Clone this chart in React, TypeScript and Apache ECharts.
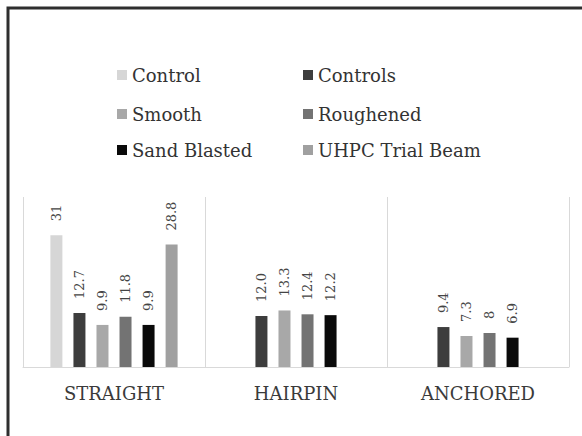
import React, { useEffect, useRef } from "react";
import * as echarts from "echarts";

const categories = ["STRAIGHT", "HAIRPIN", "ANCHORED"];
const seriesNames = ["Control", "Controls", "Smooth", "Roughened", "Sand Blasted", "UHPC Trial Beam"];
const control = [31, null, null];
const controls = [12.7, 12.0, 9.4];
const smooth = [9.9, 13.3, 7.3];
const roughened = [11.8, 12.4, 8];
const sandBlasted = [9.9, 12.2, 6.9];
const uhpcTrialBeam = [28.8, null, null];

const seriesValues = [control, controls, smooth, roughened, sandBlasted, uhpcTrialBeam];
const seriesColors = ["#d6d6d6", "#3d3d3d", "#a8a8a8", "#737373", "#0a0a0a", "#a0a0a0"];
const legendPos = [
  [117, 65], [303, 65],
  [117, 104], [303, 104],
  [117, 140], [303, 140],
];

const FONT = "DejaVu Serif";

export default function App() {
  const ref = useRef<HTMLDivElement>(null);
  useEffect(() => {
    if (!ref.current) return;
    const chart = echarts.init(ref.current, null, { renderer: "svg" });
    chart.setOption({
      animation: false,
      backgroundColor: "#ffffff",
      graphic: [
        {
          type: "rect",
          shape: { x: 8, y: 8, width: 700, height: 700 },
          style: { fill: "none", stroke: "#2e2e2e", lineWidth: 3 },
          silent: true,
          z: 100,
        },
      ],
      legend: seriesNames.map((n, i) => ({
        data: [n],
        left: legendPos[i][0],
        top: legendPos[i][1],
        padding: 0,
        icon: "rect",
        itemWidth: 10,
        itemHeight: 10,
        textStyle: { fontFamily: FONT, fontSize: 18, color: "#333333", lineHeight: 20 },
      })),
      grid: { left: 23, right: 13, top: 197, bottom: 69 },
      xAxis: {
        type: "category",
        data: categories,
        axisLine: { lineStyle: { color: "#d9d9d9", width: 1 } },
        axisTick: { show: false },
        splitLine: { show: true, lineStyle: { color: "#d9d9d9", width: 1 } },
        axisLabel: { fontFamily: FONT, fontSize: 18, color: "#3a3a3a", margin: 17 },
      },
      yAxis: { type: "value", min: 0, max: 40, show: false, splitLine: { show: false } },
      series: seriesNames.map((n, i) => ({
        name: n,
        type: "bar",
        data: seriesValues[i],
        barWidth: 12,
        barGap: "92%",
        itemStyle: { color: seriesColors[i] },
        label: {
          show: true,
          position: "top",
          rotate: 90,
          align: "left",
          verticalAlign: "middle",
          distance: 14,
          fontFamily: FONT,
          fontSize: 13,
          color: "#444444",
          formatter: (p: any) => (p.dataIndex === 1 ? Number(p.value).toFixed(1) : String(p.value)),
        },
      })),
    });
    return () => chart.dispose();
  }, []);
  return (
    <div
      ref={ref}
      style={{ position: "absolute", left: 0, top: 0, width: 582, height: 436, background: "#fff" }}
    />
  );
}
